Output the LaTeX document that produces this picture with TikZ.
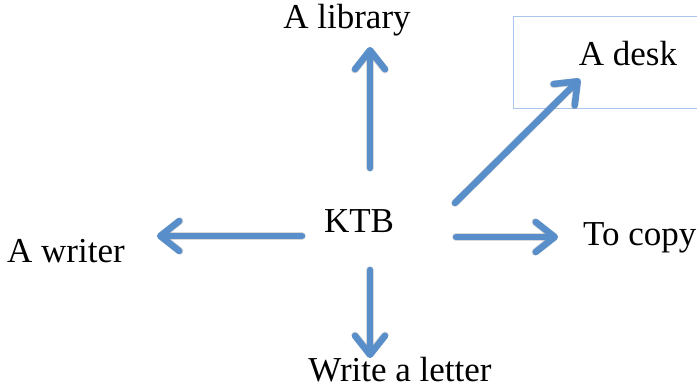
\documentclass[tikz,border=0pt]{standalone}
\usepackage{fontspec}
\setmainfont{Liberation Serif}
\usetikzlibrary{arrows.meta}
\definecolor{arrowblue}{RGB}{88,142,202}
\definecolor{boxblue}{RGB}{170,198,236}
\begin{document}
\begin{tikzpicture}[x=1pt,y=-1pt,
  word/.style={font=\fontsize{35}{40}\selectfont, anchor=base, inner sep=0pt},
  linkhead/.style={-{Straight Barb[length=19pt,width=30pt,line cap=round,line join=round]}},
  link/.style={linkhead, draw=arrowblue, line width=6.5pt, line cap=round},
  linkshade/.style={linkhead, draw=black, opacity=0.15, line width=7.5pt, line cap=round, shift={(1.5,3)}}
]
\useasboundingbox (0,0) rectangle (697,388);

% framed label at the upper right
\draw[boxblue, line width=1pt] (513,16) rectangle (720,108);

% labels
\node[word] (ktb) at (359,232) {KTB};
\node[word] (lib) at (347,28) {A library};
\node[word] (desk) at (628,65) {A desk};
\node[word] (writer) at (66,262) {A writer};
\node[word, anchor=base west] (copy) at (583,245) {To copy};
\node[word] (letter) at (400,381) {Write a letter};

% arrow ends
\coordinate (upT) at (370,168);   \coordinate (upH) at (370,47);
\coordinate (dgT) at (455,203);   \coordinate (dgH) at (580,79);
\coordinate (ltT) at (302,236);   \coordinate (ltH) at (157,236);
\coordinate (rtT) at (456,237);   \coordinate (rtH) at (558,237);
\coordinate (dnT) at (370,270);   \coordinate (dnH) at (370,358);

% soft shadows
\foreach \a in {up,dg,lt,rt,dn}
  \draw[linkshade] (\a T) -- (\a H);

% arrows leaving KTB
\foreach \a in {up,dg,lt,rt,dn}
  \draw[link] (\a T) -- (\a H);
\end{tikzpicture}
\end{document}
